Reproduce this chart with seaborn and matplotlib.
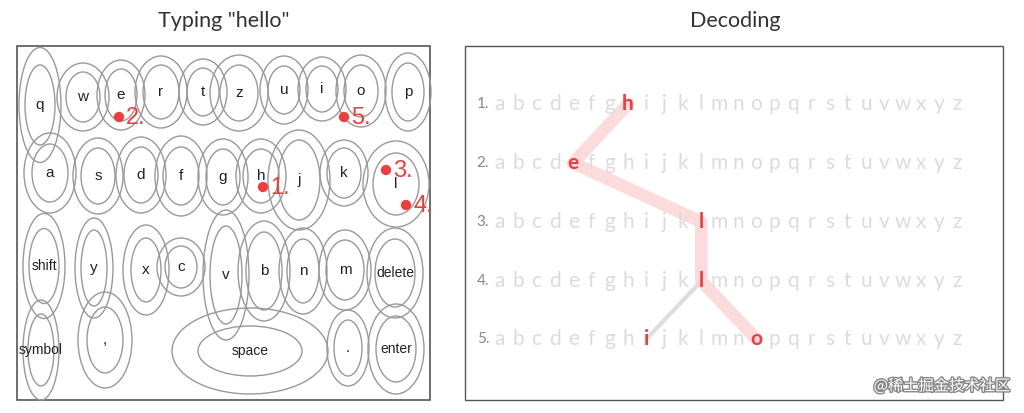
import matplotlib
matplotlib.use("Agg")
import matplotlib.pyplot as plt
import matplotlib.patheffects as pe
from matplotlib.patches import Ellipse, Rectangle
import pandas as pd
import seaborn as sns

sns.set_style("white")
plt.rcParams['font.family'] = ['Liberation Sans', 'Noto Sans CJK SC', 'DejaVu Sans']

# keyboard keys: label, centre x, centre y (image pixels), outer w/h, inner w/h
keys = ['q', 'w', 'e', 'r', 't', 'z', 'u', 'i', 'o', 'p',
        'a', 's', 'd', 'f', 'g', 'h', 'j', 'k', 'l',
        'shift', 'y', 'x', 'c', 'v', 'b', 'n', 'm', 'delete',
        'symbol', ',', 'space', '.', 'enter']
key_x = [40, 83, 121, 161, 203, 239, 284, 322, 361, 408,
         50, 98, 141, 181, 223, 261, 299, 344, 396,
         44, 94, 146, 181, 226, 264, 303, 345, 395,
         41, 105, 250, 348, 396]
key_y = [105, 97, 95, 92, 92, 93, 90, 89, 91, 92,
         173, 176, 175, 176, 177, 176, 180, 173, 184,
         266, 268, 270, 267, 275, 271, 271, 270, 273,
         350, 340, 351, 348, 349]
outer_w = [42, 52, 48, 52, 48, 58, 48, 48, 50, 46,
           52, 50, 50, 52, 50, 50, 62, 48, 66,
           42, 38, 46, 48, 46, 52, 48, 52, 56,
           36, 54, 156, 42, 56]
outer_h = [115, 68, 70, 72, 66, 76, 68, 64, 72, 78,
           80, 76, 76, 80, 76, 74, 100, 66, 86,
           105, 100, 90, 58, 130, 100, 86, 80, 90,
           100, 96, 86, 76, 90]
inner_w = [30, 34, 32, 36, 32, 38, 32, 32, 34, 32,
           36, 34, 34, 36, 34, 36, 42, 34, 46,
           30, 26, 30, 32, 32, 36, 32, 38, 40,
           26, 36, 104, 28, 40]
inner_h = [80, 50, 52, 54, 48, 56, 48, 46, 52, 58,
           58, 56, 56, 58, 56, 54, 80, 50, 62,
           75, 76, 64, 42, 98, 78, 64, 60, 68,
           72, 66, 50, 56, 66]

# touch points
tap_x = [263, 119, 386, 406, 344]
tap_y = [187, 117, 170, 205, 117]
tap_lbl = ['1.', '2.', '3.', '4.', '5.']

# decoding lattice
alphabet = list('abcdefghijklmnopqrstuvwxyz')
row_y = [104, 163, 222, 281, 339]
col_x0, col_dx = 500, 18.3
chosen = [['h'], ['e'], ['l'], ['l'], ['i', 'o']]
path_main = ['h', 'e', 'l', 'l', 'o']
path_alt = ['l', 'i']

fig = plt.figure(figsize=(10.24, 4.13), dpi=100)
ax = fig.add_axes([0, 0, 1, 1])
ax.set_xlim(0, 1024)
ax.set_ylim(413, 0)
ax.axis('off')

ax.add_patch(Rectangle((17, 46), 413, 354, fill=False, ec='#555555', lw=1.2))
ax.add_patch(Rectangle((465, 46), 538, 354, fill=False, ec='#555555', lw=1.0))
ax.text(224, 21, 'Typing "hello"', ha='center', va='center', fontsize=15.5, family=['Lato', 'DejaVu Sans'], color='#333333')
ax.text(735, 21, 'Decoding', ha='center', va='center', fontsize=15.5, family=['Lato', 'DejaVu Sans'], color='#333333')

for k, x, y, ow, oh, iw, ih in zip(keys, key_x, key_y, outer_w, outer_h, inner_w, inner_h):
    ax.add_patch(Ellipse((x, y), ow, oh, fill=False, ec='#999999', lw=1.0))
    ax.add_patch(Ellipse((x, y), iw, ih, fill=False, ec='#999999', lw=1.0))
    ax.text(x, y, k, ha='center', va='center', fontsize=10 if len(k) > 1 else 11, color='#222222')

sns.scatterplot(x=tap_x, y=tap_y, ax=ax, color='#f03c3c', s=55, edgecolor='none', zorder=5)
for x, y, l in zip(tap_x, tap_y, tap_lbl):
    ax.text(x + 7, y + 1, l, ha='left', va='center', fontsize=17, color='#f03c3c')

# path lines
px = [col_x0 + alphabet.index(c) * col_dx for c in path_main]
path_df = pd.DataFrame({'x': px, 'y': row_y})
sns.lineplot(data=path_df, x='x', y='y', ax=ax, sort=False, estimator=None,
             color='#fbd3d3', lw=9, alpha=0.8, zorder=2)
alt_df = pd.DataFrame({'x': [col_x0 + alphabet.index(c) * col_dx for c in path_alt], 'y': row_y[3:5]})
sns.lineplot(data=alt_df, x='x', y='y', ax=ax, sort=False, estimator=None,
             color='#dddddd', lw=3, zorder=1)

for r, (y, ch) in enumerate(zip(row_y, chosen)):
    ax.text(483, y, f'{r + 1}.', ha='center', va='center', fontsize=11, color='#888888', family=['Lato', 'DejaVu Sans'])
    for i, c in enumerate(alphabet):
        hit = c in ch
        ax.text(col_x0 + i * col_dx, y, c, ha='center', va='center', fontsize=15,
                color='#f03c3c' if hit else '#dcdcdc', fontweight='bold' if hit else 'normal',
                family=['Lato', 'DejaVu Sans'], zorder=3)

ax.text(1010, 386, '@稀土掘金技术社区', ha='right', va='center', fontsize=11, color='#ffffff',
        family=['Noto Sans CJK SC', 'DejaVu Sans'],
        path_effects=[pe.withStroke(linewidth=2, foreground='#888888')])

fig.savefig('out.png', dpi=100)
